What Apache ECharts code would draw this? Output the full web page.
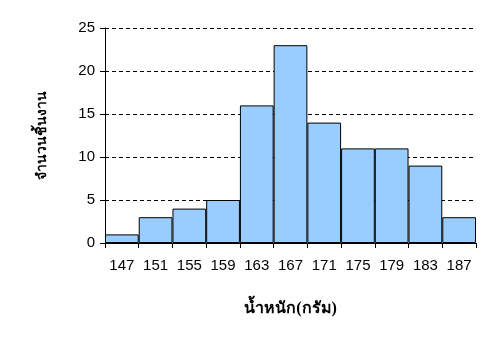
<!DOCTYPE html>
<html><head><meta charset="utf-8">
<script src="https://cdn.jsdelivr.net/npm/echarts@6/dist/echarts.min.js"></script>
<style>html,body{margin:0;padding:0;background:#fff}#c{width:491px;height:350px}</style>
</head><body><div id="c"></div>
<script>
var categories = ['147','151','155','159','163','167','171','175','179','183','187'];
var counts = [1,3,4,5,16,23,14,11,11,9,3];
var yTicks = {min:0, max:25, interval:5};
var xName = 'น้ำหนัก(กรัม)';
var yName = 'จำนวนชิ้นงาน';

var chart = echarts.init(document.getElementById('c'), null, {renderer:'canvas'});
chart.setOption({
  animation:false,
  backgroundColor:'#fff',
  grid:{left:105, right:15, top:28, bottom:107, containLabel:false},
  xAxis:{
    type:'category', data:categories, boundaryGap:true,
    name:xName, nameLocation:'middle', nameGap:58,
    nameTextStyle:{fontFamily:'Liberation Serif, serif', fontWeight:'bold', fontSize:16, color:'#000'},
    axisLine:{lineStyle:{color:'#000', width:1}},
    axisTick:{show:true, length:5, alignWithLabel:false, lineStyle:{color:'#000'}},
    axisLabel:{color:'#000', fontFamily:'Liberation Sans, Arial', fontSize:15, margin:15},
    splitLine:{show:false}
  },
  yAxis:{
    type:'value', min:yTicks.min, max:yTicks.max, interval:yTicks.interval,
    name:yName, nameLocation:'middle', nameGap:56, nameRotate:90,
    nameTextStyle:{fontFamily:'Liberation Serif, serif', fontWeight:'bold', fontSize:14, color:'#000'},
    axisLine:{show:true, lineStyle:{color:'#000', width:1}},
    axisTick:{show:true, length:5, lineStyle:{color:'#000'}},
    axisLabel:{color:'#000', fontFamily:'Liberation Sans, Arial', fontSize:15, margin:10},
    splitLine:{show:true, lineStyle:{color:'#000', type:[4,3], width:1}}
  },
  series:[{
    type:'bar', data:counts, barCategoryGap:'0%', barGap:'0%',
    itemStyle:{color:'#99CCFF', borderColor:'#000', borderWidth:1}
  }]
});
</script></body></html>
